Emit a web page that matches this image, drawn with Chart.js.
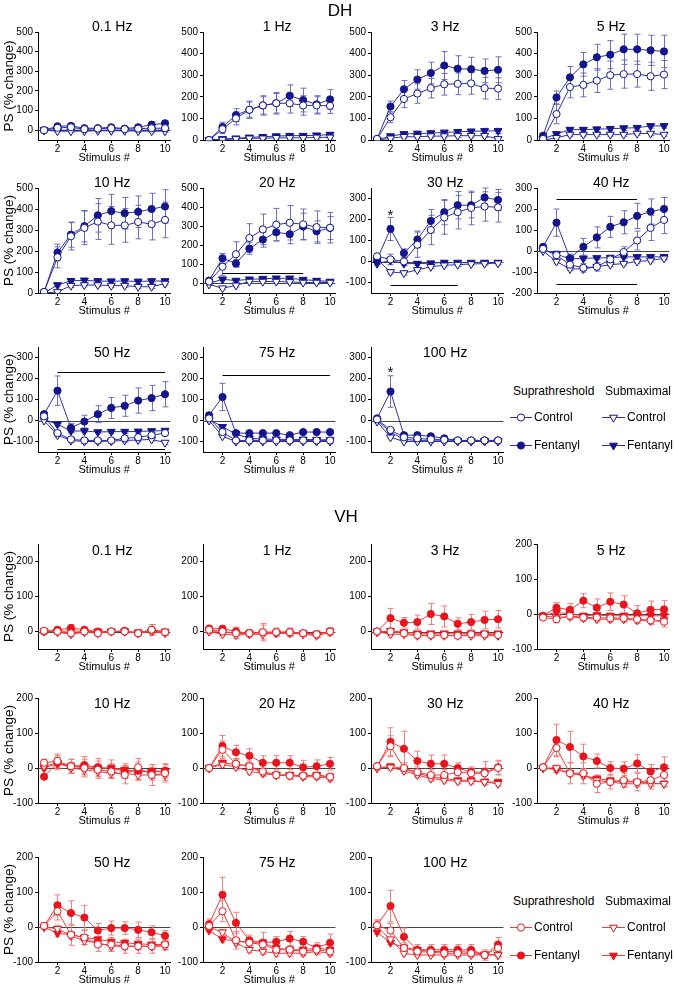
<!DOCTYPE html>
<html><head><meta charset="utf-8">
<script src="https://cdn.jsdelivr.net/npm/chart.js@4"></script>
<style>
html,body{margin:0;padding:0;background:#fff;}
#wrap{position:relative;width:674px;height:992px;overflow:hidden;font-family:'Liberation Sans',Arial,sans-serif;}
canvas{position:absolute;}
.txt{position:absolute;white-space:nowrap;color:#000;line-height:1;}
</style></head><body><div id="wrap"></div>
<script>
// ---------------- DATA ----------------
const stimuli = [1,2,3,4,5,6,7,8,9,10];
const xTickValues = [2,4,6,8,10];
const freqLabels = ['0.1 Hz','1 Hz','3 Hz','5 Hz','10 Hz','20 Hz','30 Hz','40 Hz','50 Hz','75 Hz','100 Hz'];
const seriesNames = ['Suprathreshold Control','Suprathreshold Fentanyl','Submaximal Control','Submaximal Fentanyl'];
const legendHeaders = ['Suprathreshold','Submaximal'];
const legendRows = ['Control','Fentanyl'];

// y ranges and tick labels
const dhYMin = [-50,0,0,0,0,-50,-150,-200,-150,-150,-150];
const dhYMax = [500,500,500,500,500,500,350,300,350,350,350];
const vhYMin = [-50,-50,-50,-100,-100,-100,-100,-100,-100,-100,-100];
const vhYMax = [250,250,250,200,200,200,200,200,200,200,200];
const ticks0to500 = [0,100,200,300,400,500];
const ticksM100to300 = [-100,0,100,200,300];
const ticksM200to300 = [-200,-100,0,100,200,300];
const ticks0to200 = [0,100,200];
const ticksM100to200 = [-100,0,100,200];
const dhYTicks = [ticks0to500,ticks0to500,ticks0to500,ticks0to500,ticks0to500,ticks0to500,ticksM100to300,ticksM200to300,ticksM100to300,ticksM100to300,ticksM100to300];
const vhYTicks = [ticks0to200,ticks0to200,ticks0to200,ticksM100to200,ticksM100to200,ticksM100to200,ticksM100to200,ticksM100to200,ticksM100to200,ticksM100to200,ticksM100to200];

// series order in each panel: [supra control, supra fentanyl, submax control, submax fentanyl]
// ---- DH means / SEM ----
const dh_0_1Hz = [[0,12,15,5,8,10,5,8,10,10],[0,20,22,10,10,15,8,15,28,35],[0,-5,-5,-5,-3,-3,-3,-5,-5,-5],[0,0,0,0,0,0,0,0,0,0]];
const dh_0_1Hz_err = [[5,10,10,8,8,8,8,8,10,10],[5,10,12,10,8,10,8,12,15,15],[5,5,5,5,5,5,5,5,5,5],[5,5,5,5,5,5,5,5,5,5]];
const dh_1Hz = [[0,50,100,140,160,170,170,160,160,158],[0,60,115,140,160,170,205,185,165,188],[0,2,5,8,8,10,10,10,12,12],[0,5,8,12,15,18,20,20,22,25]];
const dh_1Hz_err = [[3,20,30,35,40,45,45,45,40,35],[3,22,30,40,45,50,50,55,40,45],[2,4,5,6,6,7,7,7,8,8],[2,4,5,6,6,7,7,7,8,8]];
const dh_3Hz = [[5,105,190,215,240,258,260,262,240,238],[5,155,235,280,310,345,330,328,320,325],[0,8,15,15,18,18,20,20,20,5],[0,18,28,30,32,35,38,40,42,42]];
const dh_3Hz_err = [[3,25,40,45,45,50,50,50,50,50],[3,25,40,45,50,65,60,55,55,60],[2,5,7,8,8,8,8,8,8,8],[2,6,8,10,10,10,10,10,12,12]];
const dh_5Hz = [[5,120,245,255,275,300,305,305,295,303],[20,197,290,350,383,395,420,420,415,410],[0,10,25,25,25,25,25,30,30,25],[5,28,48,48,50,52,55,57,65,65]];
const dh_5Hz_err = [[3,45,50,55,55,65,65,60,65,65],[5,30,50,55,60,65,70,70,70,75],[2,6,8,8,8,8,8,8,8,8],[3,8,10,10,10,10,10,10,10,10]];
const dh_10Hz = [[5,170,270,310,340,322,322,338,328,348],[5,193,278,318,370,390,380,387,400,412],[0,5,35,38,38,35,35,30,30,45],[0,38,58,60,57,56,57,55,57,57]];
const dh_10Hz_err = [[3,50,65,80,85,90,80,80,75,85],[3,40,60,75,80,80,75,75,75,80],[2,6,8,8,8,8,8,8,8,8],[2,8,10,10,10,10,10,10,10,10]];
const dh_20Hz = [[10,88,153,238,283,308,318,310,295,292],[15,132,105,183,230,268,258,298,273,290],[-5,-25,-10,10,10,10,8,5,5,5],[0,22,15,22,25,27,27,20,15,10]];
const dh_20Hz_err = [[5,45,65,75,80,85,90,80,85,80],[5,25,20,30,40,45,50,70,55,60],[5,8,8,8,8,8,8,8,8,8],[5,8,8,8,8,8,8,8,8,8]];
const dh_30Hz = [[25,10,0,80,150,210,235,255,262,258],[10,155,40,105,193,235,268,268,305,293],[10,-50,-55,-40,-25,-18,-15,-12,-10,-8],[-10,5,-10,-10,-8,-5,-5,-5,-5,-5]];
const dh_30Hz_err = [[10,25,20,60,70,80,80,80,70,70],[10,55,20,40,55,60,65,60,45,50],[5,10,10,8,8,8,8,8,8,8],[5,8,8,8,8,8,8,8,8,8]];
const dh_40Hz = [[10,-20,-65,-80,-75,-40,-5,50,110,148],[20,135,-35,20,65,115,137,167,188,200],[0,-50,-85,-85,-75,-65,-60,-50,-45,-35],[5,-15,-38,-35,-33,-32,-28,-28,-28,-28]];
const dh_40Hz_err = [[10,20,20,20,20,20,25,45,60,65],[10,65,20,40,50,50,55,60,60,55],[5,8,8,8,8,8,8,8,8,8],[5,8,8,8,8,8,8,8,8,8]];
const dh_50Hz = [[20,-60,-90,-95,-95,-95,-85,-80,-70,-60],[30,142,-35,-5,30,60,70,95,107,125],[0,-70,-95,-100,-100,-98,-95,-93,-90,-105],[5,-18,-50,-50,-55,-53,-53,-52,-50,-48]];
const dh_50Hz_err = [[10,12,10,10,10,10,12,12,12,12],[10,70,20,30,40,50,50,60,60,60],[5,8,8,8,8,8,8,8,8,10],[5,8,8,8,8,8,8,8,8,8]];
const dh_75Hz = [[10,-55,-95,-95,-95,-95,-95,-95,-95,-95],[25,112,-60,-60,-60,-60,-70,-55,-55,-55],[0,-75,-100,-100,-100,-100,-100,-100,-100,-100],[5,-30,-65,-85,-88,-90,-90,-90,-92,-92]];
const dh_75Hz_err = [[8,10,8,8,8,8,8,8,8,15],[10,65,10,8,8,8,8,8,8,10],[5,5,5,5,5,5,5,5,5,5],[5,5,5,5,5,5,5,5,5,5]];
const dh_100Hz = [[5,-45,-80,-85,-90,-92,-95,-95,-95,-95],[10,138,-70,-70,-75,-85,-95,-95,-95,-95],[-5,-80,-100,-100,-100,-100,-100,-100,-100,-100],[0,-55,-90,-95,-97,-97,-98,-98,-98,-98]];
const dh_100Hz_err = [[8,10,8,8,8,8,8,8,8,8],[10,75,10,10,10,10,8,8,8,8],[5,5,5,5,5,5,5,5,5,5],[5,5,5,5,5,5,5,5,5,5]];

// ---- VH means / SEM ----
const vh_0_1Hz = [[2,0,-5,0,-5,0,0,-5,5,-2],[0,5,10,5,0,0,2,-5,5,-2],[0,-2,-8,-2,-5,0,0,-5,0,-5],[0,0,2,0,0,0,0,-2,0,0]];
const vh_0_1Hz_err = [[6,8,10,8,8,6,6,6,15,8],[6,8,10,8,6,6,6,6,15,6],[5,5,5,5,5,5,5,5,5,5],[5,5,5,5,5,5,5,5,5,5]];
const vh_1Hz = [[5,0,-5,-5,-2,-2,-2,-5,-8,0],[8,8,0,-5,-2,-2,-2,-5,-8,0],[0,-8,-10,-8,-8,-5,-5,-8,-12,-2],[0,-2,-5,-5,-5,-5,-5,-5,-8,0]];
const vh_1Hz_err = [[10,8,15,10,20,12,10,8,10,10],[10,8,12,10,25,10,12,8,10,10],[5,5,5,5,5,5,5,5,5,5],[5,5,5,5,5,5,5,5,5,5]];
const vh_3Hz = [[0,0,-5,-10,-10,-10,-12,-8,-8,-10],[0,38,25,27,50,43,22,27,33,35],[0,-8,-8,-12,-12,-12,-12,-12,-12,-12],[-2,2,-2,-5,-5,-5,-5,-5,-5,-5]];
const vh_3Hz_err = [[5,8,8,8,8,8,8,8,8,8],[5,28,15,20,30,30,17,22,25,25],[5,5,5,5,5,5,5,5,5,5],[5,5,5,5,5,5,5,5,5,5]];
const vh_5Hz = [[-10,-15,-5,-10,-10,-12,-12,-15,-18,-22],[-5,18,12,38,18,35,27,2,12,13],[-5,-10,-8,-12,-15,-15,-15,-18,-20,-18],[-5,5,0,-5,-3,-5,-5,-5,-5,-5]];
const vh_5Hz_err = [[5,10,8,8,8,10,10,12,12,15],[5,15,18,20,25,25,25,22,25,25],[5,8,8,8,8,8,8,8,8,8],[5,8,8,8,8,8,8,8,8,8]];
const vh_10Hz = [[15,20,5,0,-5,-10,-20,2,-20,-15],[-25,15,5,8,2,-2,-8,-8,-10,-8],[5,15,0,-5,-10,-15,-15,-20,-20,-20],[0,12,5,5,0,0,-5,-10,-10,-10]];
const vh_10Hz_err = [[10,20,20,25,25,20,25,25,30,25],[8,20,20,25,25,25,20,25,20,20],[8,15,15,15,15,15,15,15,15,15],[8,12,12,12,12,12,12,12,12,12]];
const vh_20Hz = [[0,52,12,5,-10,-20,-22,-22,-22,-25],[0,63,45,35,15,15,15,2,5,12],[0,10,3,-10,-15,-20,-22,-25,-25,-30],[0,15,10,5,-15,-20,-20,-22,-20,-25]];
const vh_20Hz_err = [[5,25,15,15,10,10,10,10,10,10],[5,30,20,20,20,20,20,20,18,18],[5,8,8,8,8,8,8,8,8,8],[5,8,8,8,8,8,8,8,8,8]];
const vh_30Hz = [[5,62,0,-12,-20,-20,-12,-15,-15,0],[5,75,55,20,12,12,0,-12,-12,2],[0,2,-8,-20,-30,-35,-38,-38,-40,-45],[0,5,-2,-15,-25,-30,-35,-35,-40,-40]];
const vh_30Hz_err = [[5,30,15,15,15,15,15,15,15,20],[5,40,50,28,25,25,15,15,30,20],[5,8,8,8,8,8,8,8,8,8],[5,8,8,8,8,8,8,8,8,8]];
const vh_40Hz = [[2,57,-15,-15,-45,-40,-35,-40,-35,-20],[2,80,60,33,20,0,-2,13,-10,2],[0,0,-15,-20,-35,-40,-45,-45,-45,-45],[0,-5,-15,-22,-30,-35,-40,-40,-43,-45]];
const vh_40Hz_err = [[5,25,30,30,25,20,20,25,25,20],[5,45,45,35,20,18,20,25,20,30],[5,8,8,8,8,8,8,8,8,8],[5,8,8,8,8,8,8,8,8,8]];
const vh_50Hz = [[3,45,-22,-30,-50,-50,-55,-55,-55,-50],[3,62,40,27,-10,-3,-3,-8,-15,-25],[0,-5,-25,-40,-45,-55,-55,-55,-55,-55],[0,-18,-22,-30,-35,-42,-45,-48,-50,-50]];
const vh_50Hz_err = [[8,25,30,20,20,20,20,20,20,15],[8,30,35,35,20,20,18,22,18,15],[5,10,10,10,10,10,10,10,10,10],[5,8,8,8,8,8,8,8,8,8]];
const vh_75Hz = [[3,45,-38,-45,-50,-65,-65,-70,-65,-70],[8,92,12,-38,-45,-42,-33,-42,-60,-45],[0,-15,-45,-65,-70,-75,-75,-75,-70,-75],[-10,-35,-40,-45,-45,-60,-65,-65,-60,-65]];
const vh_75Hz_err = [[10,30,25,15,15,10,10,10,10,10],[15,50,30,15,30,15,20,15,15,25],[5,8,8,8,8,8,8,8,8,8],[5,8,8,8,8,8,8,8,8,8]];
const vh_100Hz = [[5,-10,-60,-70,-72,-75,-75,-75,-80,-60],[5,60,-28,-65,-65,-65,-65,-65,-80,-50],[0,-35,-75,-80,-80,-80,-80,-80,-80,-80],[-15,-45,-58,-65,-70,-70,-70,-72,-78,-80]];
const vh_100Hz_err = [[15,20,15,10,10,10,10,10,10,10],[15,45,25,15,15,15,15,15,15,20],[5,5,5,5,5,5,5,5,5,5],[5,5,5,5,5,5,5,5,5,5]];

// significance bars [panel index, from stimulus, to stimulus, level] and asterisks [panel, stimulus, level]
const dhSigBars = [[5,2,8,55],[6,2,7,-113],[7,2,8,250],[7,2,8,-158],[8,2,10,232],[8,2,10,-135],[9,2,10,217]];
const dhStars = [[6,2,232],[10,2,240]];

// ---------------- LAYOUT / STYLE ----------------
const dhPanels = [dh_0_1Hz,dh_1Hz,dh_3Hz,dh_5Hz,dh_10Hz,dh_20Hz,dh_30Hz,dh_40Hz,dh_50Hz,dh_75Hz,dh_100Hz];
const dhPanelsErr = [dh_0_1Hz_err,dh_1Hz_err,dh_3Hz_err,dh_5Hz_err,dh_10Hz_err,dh_20Hz_err,dh_30Hz_err,dh_40Hz_err,dh_50Hz_err,dh_75Hz_err,dh_100Hz_err];
const vhPanels = [vh_0_1Hz,vh_1Hz,vh_3Hz,vh_5Hz,vh_10Hz,vh_20Hz,vh_30Hz,vh_40Hz,vh_50Hz,vh_75Hz,vh_100Hz];
const vhPanelsErr = [vh_0_1Hz_err,vh_1Hz_err,vh_3Hz_err,vh_5Hz_err,vh_10Hz_err,vh_20Hz_err,vh_30Hz_err,vh_40Hz_err,vh_50Hz_err,vh_75Hz_err,vh_100Hz_err];

const FONT = "'Liberation Sans', Arial, sans-serif";
Chart.defaults.font.family = FONT;
Chart.defaults.color = '#000';

const colLeft = [38, 203, 371, 537];
const axisW = [38, 36, 36, 36];
const PLOT_W = 134, T = 22, B = 25, PR = 4;
const dhRows = [{top:32,bottom:140,titleY:27},{top:188,bottom:293,titleY:183},{top:347,bottom:452,titleY:353}];
const vhRows = [{top:544,bottom:649,titleY:551},{top:698,bottom:803,titleY:704},{top:857,bottom:962,titleY:863}];
const palettes = {
  dh:{marker:'#14148c', line:'#3030a4', err:'rgba(95,95,188,0.9)'},
  vh:{marker:'#e8141e', line:'#ee3c3c', err:'rgba(242,120,120,0.95)'}
};
const markerStyles = [
  {style:'circle', r:3.6, filled:false, rot:0},
  {style:'circle', r:3.6, filled:true, rot:0},
  {style:'triangle', r:4.6, filled:false, rot:180},
  {style:'triangle', r:4.6, filled:true, rot:180}
];

const wrap = document.getElementById('wrap');

const decoPlugin = {
  id:'deco',
  beforeDatasetsDraw(chart){
    const d = chart.canvas._deco; if(!d) return;
    const ctx = chart.ctx, xs = chart.scales.x, ys = chart.scales.y, ca = chart.chartArea;
    ctx.save();
    if (ys.min < 0) {
      const y0 = Math.round(ys.getPixelForValue(0)) + 0.5;
      ctx.strokeStyle = '#444'; ctx.lineWidth = 1;
      ctx.beginPath(); ctx.moveTo(ca.left, y0); ctx.lineTo(ca.right, y0); ctx.stroke();
    }
    // error bars
    chart.data.datasets.forEach((ds,i)=>{
      const meta = chart.getDatasetMeta(i);
      ctx.strokeStyle = ds.errColor; ctx.lineWidth = 1;
      meta.data.forEach((pt,j)=>{
        const v = ds.data[j].y, e = ds.errors[j];
        const yt = ys.getPixelForValue(v+e), yb = ys.getPixelForValue(v-e);
        const x = Math.round(pt.x)+0.5;
        ctx.beginPath();
        ctx.moveTo(x,yt); ctx.lineTo(x,yb);
        ctx.moveTo(x-3,yt); ctx.lineTo(x+3,yt);
        ctx.moveTo(x-3,yb); ctx.lineTo(x+3,yb);
        ctx.stroke();
      });
    });
    ctx.restore();
  },
  afterDraw(chart){
    const d = chart.canvas._deco; if(!d) return;
    const ctx = chart.ctx, xs = chart.scales.x, ys = chart.scales.y, ca = chart.chartArea;
    ctx.save();
    // significance bars
    ctx.strokeStyle = '#000'; ctx.lineWidth = 1;
    d.bars.forEach(b=>{
      const y = Math.round(ys.getPixelForValue(b[3]))+0.5;
      ctx.beginPath(); ctx.moveTo(xs.getPixelForValue(b[1]), y); ctx.lineTo(xs.getPixelForValue(b[2]), y); ctx.stroke();
    });
    ctx.fillStyle = '#000'; ctx.textAlign = 'center'; ctx.textBaseline = 'middle';
    ctx.font = '15px ' + FONT;
    d.stars.forEach(s=>{
      ctx.fillText('*', xs.getPixelForValue(s[1]), ys.getPixelForValue(s[2]) + 3);
    });
    // panel title
    ctx.font = '14px ' + FONT;
    ctx.fillText(d.title, (ca.left+ca.right)/2 + 8, d.titleY);
    // y axis title
    if (d.yTitle) {
      ctx.translate(9, (ca.top+ca.bottom)/2);
      ctx.rotate(-Math.PI/2);
      ctx.font = '13.5px ' + FONT;
      ctx.fillText('PS (% change)', 0, 0);
    }
    ctx.restore();
  }
};

function makePanel(region, k){
  const isDH = region === 'dh';
  const rows = isDH ? dhRows : vhRows;
  const row = rows[Math.floor(k/4)], col = k % 4;
  const pal = palettes[region];
  const vals = (isDH ? dhPanels : vhPanels)[k];
  const errs = (isDH ? dhPanelsErr : vhPanelsErr)[k];
  const ymin = (isDH ? dhYMin : vhYMin)[k], ymax = (isDH ? dhYMax : vhYMax)[k];
  const yt = (isDH ? dhYTicks : vhYTicks)[k];
  const left = colLeft[col] - axisW[col], top = row.top - T;
  const cw = axisW[col] + PLOT_W + PR, ch = T + (row.bottom - row.top) + B;
  const cv = document.createElement('canvas');
  cv.width = cw; cv.height = ch;
  cv.style.left = left+'px'; cv.style.top = top+'px'; cv.style.width = cw+'px'; cv.style.height = ch+'px';
  wrap.appendChild(cv);
  cv._deco = {
    title: freqLabels[k],
    titleY: row.titleY - top,
    yTitle: col === 0,
    bars: isDH ? dhSigBars.filter(b=>b[0]===k) : [],
    stars: isDH ? dhStars.filter(s=>s[0]===k) : []
  };
  const datasets = vals.map((series,i)=>{
    const m = markerStyles[i];
    return {
      label: seriesNames[i],
      data: stimuli.map((x,j)=>({x:x, y:series[j]})),
      errors: errs[i],
      errColor: pal.err,
      borderColor: pal.line,
      borderWidth: 1,
      tension: 0,
      fill: false,
      pointStyle: m.style,
      pointRadius: m.r,
      pointRotation: m.rot,
      pointBackgroundColor: m.filled ? pal.marker : '#ffffff',
      pointBorderColor: pal.marker,
      pointBorderWidth: 1
    };
  });
  new Chart(cv, {
    type:'line',
    data:{datasets},
    options:{
      responsive:false, animation:false, devicePixelRatio:1,
      events:[],
      layout:{padding:{top:T, right:PR, left:0, bottom:0}},
      plugins:{legend:{display:false}, tooltip:{enabled:false}},
      scales:{
        x:{type:'linear', min:0.55, max:10.4,
          afterBuildTicks(s){ s.ticks = xTickValues.map(v=>({value:v})); },
          afterFit(s){ s.height = B; },
          grid:{drawOnChartArea:false, drawTicks:true, tickLength:3, color:'#000', lineWidth:1},
          border:{display:true, color:'#000', width:1},
          ticks:{font:{size:10}, color:'#000', padding:0, maxRotation:0, autoSkip:false},
          title:{display:true, text:'Stimulus #', font:{size:11}, color:'#000', padding:{top:0,bottom:0}}
        },
        y:{type:'linear', min:ymin, max:ymax,
          afterBuildTicks(s){ s.ticks = yt.map(v=>({value:v})); },
          afterFit(s){ s.width = axisW[col]; },
          grid:{drawOnChartArea:false, drawTicks:true, tickLength:3, color:'#000', lineWidth:1},
          border:{display:true, color:'#000', width:1},
          ticks:{font:{size:10}, color:'#000', padding:2, autoSkip:false}
        }
      }
    },
    plugins:[decoPlugin]
  });
}

for (let k=0;k<11;k++){ makePanel('dh',k); makePanel('vh',k); }

function addText(txt, x, y, size, align){
  const d = document.createElement('div');
  d.className = 'txt'; d.textContent = txt;
  d.style.fontSize = size+'px';
  d.style.top = (y - size*0.5)+'px';
  if (align === 'center') { d.style.left = (x-100)+'px'; d.style.width = '200px'; d.style.textAlign='center'; }
  else d.style.left = x+'px';
  wrap.appendChild(d);
}
addText('DH', 340, 10, 17, 'center');
addText('VH', 346, 516, 17, 'center');

function drawLegend(region, yHead, yCtl, yFen){
  const pal = palettes[region];
  addText(legendHeaders[0], 513, yHead, 12);
  addText(legendHeaders[1], 605, yHead, 12);
  const groups = [{x1:510,x2:532,tx:534,idx:[0,1]},{x1:602,x2:625,tx:627,idx:[2,3]}];
  const ys = [yCtl, yFen];
  const cv = document.createElement('canvas');
  cv.width = 140; cv.height = 60;
  const ox = 500, oy = yCtl - 12;
  cv.style.left = ox+'px'; cv.style.top = oy+'px'; cv.style.width='140px'; cv.style.height='60px';
  wrap.appendChild(cv);
  const ctx = cv.getContext('2d');
  groups.forEach(g=>{
    g.idx.forEach((si,r)=>{
      const y = Math.round(ys[r]-oy)+0.5;
      ctx.strokeStyle = pal.line; ctx.lineWidth = 1;
      ctx.beginPath(); ctx.moveTo(g.x1-ox, y); ctx.lineTo(g.x2-ox, y); ctx.stroke();
      const m = markerStyles[si];
      const cx = (g.x1+g.x2)/2 - ox;
      ctx.fillStyle = m.filled ? pal.marker : '#fff';
      ctx.strokeStyle = pal.marker;
      ctx.beginPath();
      if (m.style === 'circle') ctx.arc(cx, y, m.r, 0, Math.PI*2);
      else {
        const r = m.r;
        ctx.moveTo(cx, y + r);
        ctx.lineTo(cx - r*0.866, y - r*0.5);
        ctx.lineTo(cx + r*0.866, y - r*0.5);
        ctx.closePath();
      }
      ctx.fill(); ctx.stroke();
      addText(legendRows[r], g.tx, ys[r], 12);
    });
  });
}
drawLegend('dh', 391, 417, 445);
drawLegend('vh', 901, 927, 955);
</script></body></html>
